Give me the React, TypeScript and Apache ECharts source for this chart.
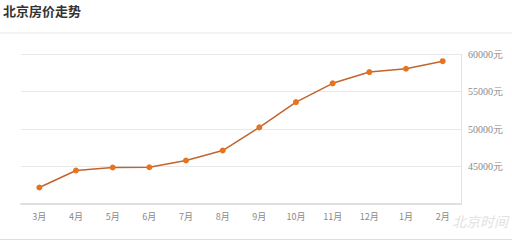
import React, { useEffect, useRef } from "react";
import * as echarts from "echarts";

const title = "北京房价走势";
const months = ["3月", "4月", "5月", "6月", "7月", "8月", "9月", "10月", "11月", "12月", "1月", "2月"];
const prices = [42200, 44470, 44870, 44900, 45800, 47130, 50220, 53590, 56090, 57590, 58030, 59040];
const yMin = 40000;
const yMax = 60000;
const yStep = 5000;
const watermark = "北京时间";

export default function App() {
  const ref = useRef<HTMLDivElement>(null);
  useEffect(() => {
    const chart = echarts.init(ref.current!, undefined, { renderer: "svg" });
    chart.setOption({
      animation: false,
      backgroundColor: "#ffffff",
      title: {
        text: title,
        left: -2,
        top: -1,
        textStyle: {
          fontFamily: "Noto Sans CJK SC",
          fontSize: 13,
          fontWeight: "bold",
          color: "#333333",
        },
      },
      graphic: [
        {
          type: "line",
          shape: { x1: 0, y1: 33, x2: 512, y2: 33 },
          style: { stroke: "#e6e6e6", lineWidth: 1 },
        },
        {
          type: "line",
          shape: { x1: 0, y1: 239.5, x2: 512, y2: 239.5 },
          style: { stroke: "#dddddd", lineWidth: 1 },
        },
        {
          type: "text",
          x: 452,
          y: 214,
          style: {
            text: watermark,
            fontFamily: "Noto Sans CJK SC",
            fontSize: 14,
            fontStyle: "italic",
            fill: "#e2e2e2",
          },
        },
      ],
      grid: { left: 21, right: 51, top: 54, bottom: 37 },
      xAxis: {
        type: "category",
        data: months,
        boundaryGap: true,
        axisLine: { show: true, lineStyle: { color: "#e0e0e0", width: 2 } },
        axisTick: { show: false },
        axisLabel: {
          color: "#8a8a8a",
          fontSize: 9,
          margin: 8,
          fontFamily: "Noto Sans CJK SC",
        },
      },
      yAxis: {
        type: "value",
        position: "right",
        min: yMin,
        max: yMax,
        interval: yStep,
        axisLine: { show: true, lineStyle: { color: "#e3e3e3", width: 1 } },
        axisTick: { show: false },
        splitLine: { show: true, lineStyle: { color: "#e8e8e8", width: 1 } },
        axisLabel: {
          showMinLabel: false,
          color: "#8a8a8a",
          fontSize: 10,
          margin: 7,
          fontFamily: "Liberation Serif",
          formatter: (v: number) => (v === yMin ? "" : v + "元"),
        },
      },
      series: [
        {
          type: "line",
          data: prices,
          symbol: "circle",
          symbolSize: 6,
          lineStyle: { color: "#c0652e", width: 1.5 },
          itemStyle: { color: "#e8731e" },
        },
      ],
    });
    return () => chart.dispose();
  }, []);
  return <div ref={ref} style={{ width: 512, height: 241, position: "absolute", left: 0, top: 0 }} />;
}
